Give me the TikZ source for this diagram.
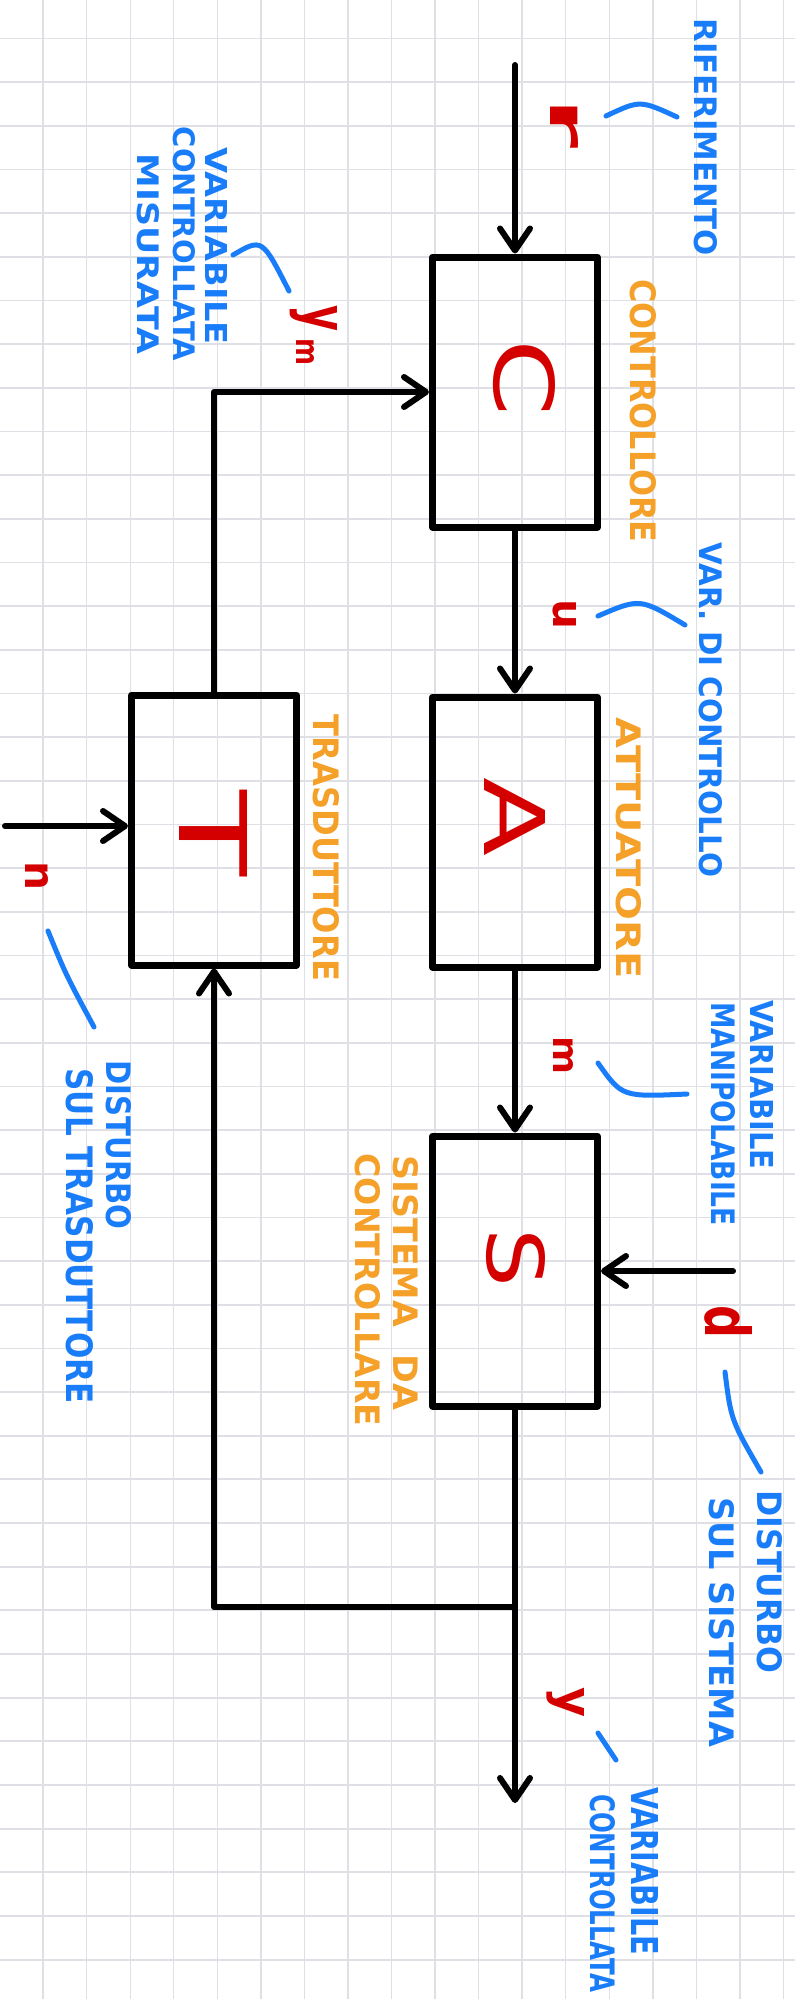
\documentclass[tikz,border=0pt]{standalone}
\usepackage{fontspec}
\setmainfont{DejaVu Sans}
\usetikzlibrary{arrows.meta}
\definecolor{hblue}{RGB}{25,125,250}
\definecolor{horange}{RGB}{245,160,40}
\definecolor{hred}{RGB}{212,0,0}
\definecolor{gridc}{RGB}{222,224,230}
\newcommand{\fitbox}[3]{\resizebox{#1pt}{#2pt}{#3}}
\tikzset{
  blk/.style={draw=black, line width=7pt, minimum width=165pt, minimum height=270pt, inner sep=0pt, line join=round},
  wire/.style={draw=black, line width=6pt, line cap=round, line join=round},
  arr/.style={-{Straight Barb[length=22pt,width=30pt,round]}},
  lbl/.style={rotate=-90, inner sep=0pt, font=\bfseries},
  big/.style={rotate=-90, inner sep=0pt, text=hred},
  brk/.style={draw=hblue, line width=5pt, line cap=round}
}
\begin{document}
\begin{tikzpicture}[x=1pt,y=-1pt]
\useasboundingbox[fill=white] (0,0) rectangle (795,1999);
% grid
\foreach \i in {0,...,18} \draw[gridc, line width=1.4pt] ({43.1+\i*43.55},0) -- ++(0,1999);
\foreach \j in {0,...,45} \draw[gridc, line width=1.8pt] (0,{38.6+\j*43.66}) -- ++(795,0);

% blocks
\node[blk] (C) at (515,392) {};
\node[blk] (A) at (515,832) {};
\node[blk] (T) at (214,830) {};
\node[blk] (S) at (515,1271) {};

% block letters
\node[big] (Cl) at (524,378) {\fitbox{77}{61}{C}};
\node[big] (Al) at (515,817) {\fitbox{79}{61}{A}};
\node[big] (Tl) at (214,834) {\fitbox{86}{68}{T}};
\node[big] (Sl) at (516,1258) {\fitbox{59}{58}{S}};

% connectors
\coordinate (rin) at (515,65);
\coordinate (nin) at (5,826);
\coordinate (din) at (733,1271);
\coordinate (yout) at (515,1803);
\coordinate (j) at (515,1607);
\draw[wire,arr] (rin) -- (C.north);
\draw[wire,arr] (C.south) -- (A.north);
\draw[wire,arr] (A.south) -- (S.north);
\draw[wire,arr] (S.south) -- (yout);
\draw[wire,arr] (j) -| (T.south);
\draw[wire,arr] (T.north) |- (C.west);
\draw[wire,arr] (din) -- (S.east);
\draw[wire,arr] (nin) -- (nin -| T.west);

% red signal labels
\node[lbl, text=hred, anchor=base west] (lr) at (550,98) {\fitbox{50}{28}{r}};
\node[lbl, text=hred, anchor=base west] (lym) at (303,305) {\fitbox{26}{34}{y}\hspace{7pt}\raisebox{-7pt}{\fitbox{27}{18}{m}}};
\node[lbl, text=hred, anchor=base west] (lu) at (553,599) {\fitbox{30}{23}{u}};
\node[lbl, text=hred, anchor=base west] (lm) at (553,1036) {\fitbox{38}{20}{m}};
\node[lbl, text=hred, anchor=base west] (ln) at (25,861) {\fitbox{29}{23}{n}};
\node[lbl, text=hred, anchor=base west] (ld) at (705,1305) {\fitbox{33}{47}{d}};
\node[lbl, text=hred, anchor=base west] (ly) at (557,1687) {\fitbox{30}{27}{y}};

% blue brackets
\draw[brk] (606,116) .. controls (640,100) .. (677,117);
\draw[brk] (233,255) .. controls (262,238) .. (289,291);
\draw[brk] (598,616) .. controls (640,598) .. (685,625);
\draw[brk] (598,1063) .. controls (622,1097) .. (687,1094);
\draw[brk] (48,931) .. controls (66,975) .. (94,1027);
\draw[brk] (725,1372) .. controls (731,1420) .. (761,1472);
\draw[brk] (598,1733) -- (616,1760);

% blue texts
\node[lbl, text=hblue] (tRif) at (706,137) {\fitbox{237}{23}{RIFERIMENTO}};
\node[lbl, text=hblue] (tV1) at (216,246) {\fitbox{197}{22}{VARIABILE}};
\node[lbl, text=hblue] (tV2) at (184,244) {\fitbox{234}{22}{CONTROLLATA}};
\node[lbl, text=hblue] (tV3) at (148,254) {\fitbox{200}{22}{MISURATA}};
\node[lbl, text=hblue] (tVdc) at (711,710) {\fitbox{334}{23}{VAR. DI CONTROLLO}};
\node[lbl, text=hblue] (tVM1) at (762,1085) {\fitbox{169}{23}{VARIABILE}};
\node[lbl, text=hblue] (tVM2) at (723,1114) {\fitbox{224}{24}{MANIPOLABILE}};
\node[lbl, text=hblue] (tDT1) at (119,1145) {\fitbox{169}{25}{DISTURBO}};
\node[lbl, text=hblue] (tDT2) at (80,1236) {\fitbox{335}{27}{SUL TRASDUTTORE}};
\node[lbl, text=hblue] (tDS1) at (770,1582) {\fitbox{183}{25}{DISTURBO}};
\node[lbl, text=hblue] (tDS2) at (722,1622) {\fitbox{250}{25}{SUL SISTEMA}};
\node[lbl, text=hblue] (tVC1) at (645,1871) {\fitbox{168}{27}{VARIABILE}};
\node[lbl, text=hblue] (tVC2) at (603,1893) {\fitbox{198}{25}{CONTROLLATA}};

% orange texts
\node[lbl, text=horange] (tCtrl) at (643,411) {\fitbox{263}{26}{CONTROLLORE}};
\node[lbl, text=horange] (tAtt) at (629,848) {\fitbox{261}{25}{ATTUATORE}};
\node[lbl, text=horange] (tTra) at (326,848) {\fitbox{266}{26}{TRASDUTTORE}};
\node[lbl, text=horange] (tSis1) at (406,1283) {\fitbox{255}{25}{SISTEMA\hspace{0.8em}DA}};
\node[lbl, text=horange] (tSis2) at (368,1290) {\fitbox{273}{25}{CONTROLLARE}};
\end{tikzpicture}
\end{document}
